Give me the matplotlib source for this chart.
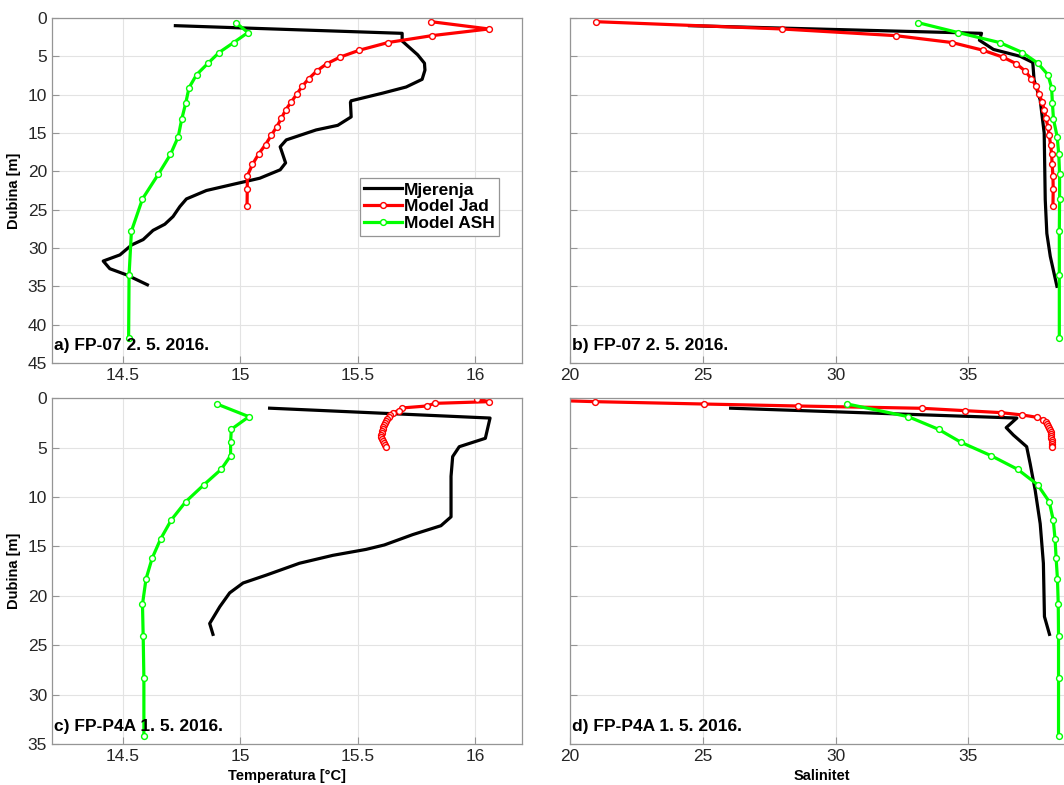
import matplotlib
matplotlib.use('Agg')
import matplotlib.pyplot as plt

plt.rcParams['font.family'] = ['Liberation Sans', 'DejaVu Sans']

# --- FP-07, 2. 5. 2016. ---
# Mjerenja (measured)
a_mj_d = [1.0, 2.0, 3.0, 4.8, 5.9, 6.8, 8.0, 9.0, 9.8, 10.8, 11.0, 12.9, 14.0, 14.6, 15.9, 16.8,
          18.9, 19.8, 20.9, 21.7, 22.5, 23.6, 24.6, 25.9, 26.9, 27.7, 28.9, 29.6, 30.9, 31.7,
          32.7, 33.5, 34.8]
a_mj_t = [14.725, 15.69, 15.69, 15.756, 15.785, 15.787, 15.775, 15.707, 15.607, 15.473, 15.47,
          15.473, 15.416, 15.324, 15.197, 15.171, 15.194, 15.171, 15.084, 14.97, 14.857, 14.772,
          14.744, 14.715, 14.68, 14.63, 14.588, 14.539, 14.489, 14.418, 14.446, 14.517, 14.606]
b_mj_d = [1.0, 2.0, 2.9, 4.1, 5.0, 5.8, 8.1, 10.7, 15.0, 23.7, 28.1, 31.1, 35.0]
b_mj_s = [24.5, 35.5, 35.42, 35.95, 36.96, 37.43, 37.48, 37.71, 37.86, 37.9, 37.96, 38.09, 38.34]

# Model Jad
a_jad_d = [0.48, 1.43, 2.3, 3.2, 4.2, 5.1, 5.95, 6.9, 7.9, 8.9, 9.95, 11.0, 12.0, 13.1, 14.2,
           15.3, 16.5, 17.7, 19.1, 20.6, 22.3, 24.5]
a_jad_t = [15.813, 16.059, 15.817, 15.63, 15.508, 15.426, 15.37, 15.327, 15.293, 15.265, 15.241,
           15.217, 15.194, 15.176, 15.156, 15.133, 15.109, 15.08, 15.053, 15.031, 15.031, 15.03]
a_jad_s = [20.97, 27.97, 32.26, 34.39, 35.55, 36.3, 36.8, 37.14, 37.37, 37.56, 37.68, 37.78,
           37.87, 37.93, 38.0, 38.05, 38.1, 38.14, 38.16, 38.19, 38.2, 38.19]

# Model ASH
a_ash_d = [0.6, 1.9, 3.2, 4.5, 5.9, 7.4, 9.1, 11.1, 13.2, 15.5, 17.8, 20.4, 23.6, 27.8, 33.5, 41.8]
a_ash_t = [14.982, 15.034, 14.973, 14.911, 14.864, 14.815, 14.783, 14.769, 14.752, 14.737,
           14.704, 14.652, 14.585, 14.538, 14.528, 14.526]
a_ash_s = [33.1, 34.62, 36.18, 37.04, 37.62, 38.0, 38.14, 38.17, 38.21, 38.35, 38.41, 38.44,
           38.44, 38.43, 38.43, 38.43]

# --- FP-P4A, 1. 5. 2016. ---
c_mj_d = [1.0, 2.0, 4.05, 4.9, 5.9, 7.9, 12.0, 12.9, 13.8, 14.85, 15.3, 15.9, 16.7, 17.9, 18.7,
          19.7, 21.1, 22.8, 23.9]
c_mj_t = [15.126, 16.064, 16.044, 15.933, 15.905, 15.898, 15.898, 15.855, 15.735, 15.614, 15.536,
          15.395, 15.253, 15.112, 15.013, 14.956, 14.914, 14.871, 14.885]
d_mj_d = [1.0, 2.0, 2.97, 3.72, 4.9, 6.6, 9.3, 12.7, 16.7, 22.1, 23.9]
d_mj_s = [26.05, 36.83, 36.43, 36.7, 37.2, 37.33, 37.52, 37.71, 37.83, 37.87, 38.06]

c_jad_d = [0.07, 0.34, 0.51, 0.78, 0.98, 1.25, 1.45, 1.69, 1.9, 2.1, 2.3, 2.5, 2.7, 2.9, 3.1,
           3.3, 3.5, 3.7, 3.9, 4.1, 4.3, 4.5, 4.7, 4.9]
c_jad_t = [16.008, 16.06, 15.83, 15.794, 15.688, 15.675, 15.65, 15.639, 15.632, 15.626, 15.621,
           15.617, 15.613, 15.61, 15.607, 15.605, 15.603, 15.602, 15.602, 15.604, 15.608, 15.614,
           15.618, 15.62]
c_jad_s = [19.2, 20.94, 25.06, 28.6, 33.24, 34.87, 36.23, 37.04, 37.6, 37.83, 37.92, 37.98,
           38.02, 38.05, 38.08, 38.1, 38.11, 38.12, 38.13, 38.14, 38.14, 38.15, 38.15, 38.15]
c_jad_d_s = [0.2, 0.34, 0.58, 0.78, 1.01, 1.25, 1.45, 1.69, 1.93, 2.2, 2.4, 2.6, 2.8, 3.0, 3.2,
             3.4, 3.6, 3.8, 4.0, 4.2, 4.4, 4.6, 4.8, 4.9]

c_ash_d = [0.58, 1.86, 3.14, 4.46, 5.81, 7.19, 8.74, 10.47, 12.3, 14.25, 16.2, 18.3, 20.86,
           24.07, 28.3, 34.2]
c_ash_t = [14.902, 15.038, 14.963, 14.96, 14.96, 14.92, 14.847, 14.769, 14.708, 14.662, 14.626,
           14.6, 14.585, 14.588, 14.591, 14.591]
c_ash_s = [30.45, 32.74, 33.88, 34.73, 35.86, 36.86, 37.61, 38.05, 38.2, 38.27, 38.31, 38.36,
           38.39, 38.4, 38.4, 38.4]

labels = ['Mjerenja', 'Model Jad', 'Model ASH']
titles = ['a) FP-07 2. 5. 2016.', 'b) FP-07 2. 5. 2016.', 'c) FP-P4A 1. 5. 2016.', 'd) FP-P4A 1. 5. 2016.']

W, H = 1064, 785
fig = plt.figure(figsize=(W / 100, H / 100), dpi=100)


def box(l, t, r, b):
    return [l / W, 1 - b / H, (r - l) / W, (b - t) / H]


# right column runs past the right edge of the picture, as in the original
ax_a = fig.add_axes(box(52, 18, 522, 363))
ax_b = fig.add_axes(box(570, 18, 1101, 363))
ax_c = fig.add_axes(box(52, 398.3, 522, 744))
ax_d = fig.add_axes(box(570, 398.3, 1101, 744))

lw = 2.3
mk = dict(marker='o', markersize=4.2, markerfacecolor='white', markeredgewidth=1.0)

ax_a.plot(a_mj_t, a_mj_d, color='black', lw=lw, label=labels[0])
ax_a.plot(a_jad_t, a_jad_d, color='red', lw=lw, markeredgecolor='red', label=labels[1], **mk)
ax_a.plot(a_ash_t, a_ash_d, color='#00ff00', lw=lw, markeredgecolor='#00ff00', label=labels[2], **mk)

ax_b.plot(b_mj_s, b_mj_d, color='black', lw=lw)
ax_b.plot(a_jad_s, a_jad_d, color='red', lw=lw, markeredgecolor='red', **mk)
ax_b.plot(a_ash_s, a_ash_d, color='#00ff00', lw=lw, markeredgecolor='#00ff00', **mk)

ax_c.plot(c_mj_t, c_mj_d, color='black', lw=lw)
ax_c.plot(c_jad_t, c_jad_d, color='red', lw=lw, markeredgecolor='red', **mk)
ax_c.plot(c_ash_t, c_ash_d, color='#00ff00', lw=lw, markeredgecolor='#00ff00', **mk)

ax_d.plot(d_mj_s, d_mj_d, color='black', lw=lw)
ax_d.plot(c_jad_s, c_jad_d_s, color='red', lw=lw, markeredgecolor='red', **mk)
ax_d.plot(c_ash_s, c_ash_d, color='#00ff00', lw=lw, markeredgecolor='#00ff00', **mk)

for ax, title in zip([ax_a, ax_b, ax_c, ax_d], titles):
    ax.grid(True, color='#e3e3e3', lw=0.8)
    ax.set_axisbelow(True)
    for sp in ax.spines.values():
        sp.set_color('#959595')
        sp.set_linewidth(0.9)
    ax.tick_params(direction='in', length=5, width=0.8, color='#959595',
                   labelsize=12.5, labelcolor='#262626')
    ax.text(0.004, 0.028, title, transform=ax.transAxes, fontsize=12.5,
            fontweight='bold', ha='left', va='bottom')

for ax in [ax_a, ax_c]:
    ax.set_xlim(14.2, 16.2)
    ax.set_xticks([14.5, 15, 15.5, 16])
    ax.set_xticklabels(['14.5', '15', '15.5', '16'])
    ax.set_ylabel('Dubina [m]', fontsize=10.5, fontweight='bold', labelpad=5)
for ax in [ax_b, ax_d]:
    ax.set_xlim(20, 40)
    ax.set_xticks([20, 25, 30, 35])
    ax.tick_params(labelleft=False)

for ax in [ax_a, ax_b]:
    ax.set_ylim(45, 0)
    ax.set_yticks(range(0, 46, 5))
for ax in [ax_c, ax_d]:
    ax.set_ylim(35, 0)
    ax.set_yticks(range(0, 36, 5))

ax_c.set_xlabel('Temperatura [°C]', fontsize=10.5, fontweight='bold')
ax_d.set_xlabel('Salinitet', fontsize=10.5, fontweight='bold')
ax_c.xaxis.set_label_coords(0.5, -0.073)
ax_d.xaxis.set_label_coords((822 - 570) / (1101 - 570), -0.073)

leg = ax_a.legend(loc='upper right', bbox_to_anchor=(0.951, 0.536),
                  prop={'weight': 'bold', 'size': 12.5}, handlelength=2.2, handletextpad=0.1,
                  labelspacing=0.1, borderpad=0.25, borderaxespad=0, fancybox=False,
                  framealpha=1, edgecolor='#959595')
leg.get_frame().set_linewidth(0.9)

fig.savefig('out.png', dpi=100)
